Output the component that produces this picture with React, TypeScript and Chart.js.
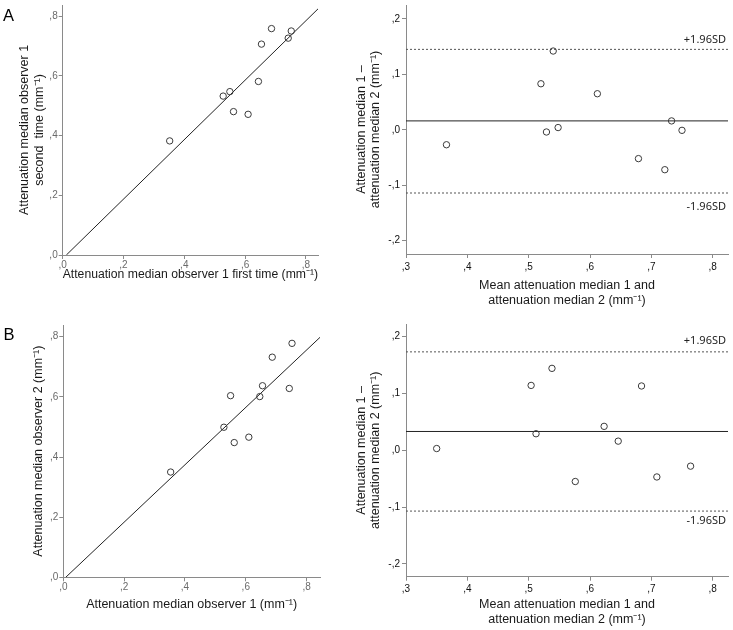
import { useEffect, useRef } from "react";
import { Chart, registerables } from "chart.js";

Chart.register(...registerables);

// ---------- Panel A: observer 1, first vs second time ----------
const aFirst = [0.352, 0.528, 0.55, 0.562, 0.61, 0.644, 0.654, 0.687, 0.742, 0.752];
const aSecond = [0.382, 0.532, 0.547, 0.48, 0.471, 0.581, 0.706, 0.758, 0.726, 0.75];
const aFitX = [0.012, 0.84];
const aFitY = [0, 0.824];

// ---------- Panel A: Bland-Altman ----------
const aMean = [0.366, 0.52, 0.529, 0.54, 0.548, 0.612, 0.679, 0.722, 0.733, 0.75];
const aDiff = [-0.027, 0.083, -0.004, 0.142, 0.004, 0.065, -0.052, -0.072, 0.016, -0.001];
const aBias = 0.016;
const aUpper = 0.145;
const aLower = -0.114;

// ---------- Panel B: observer 1 vs observer 2 ----------
const bObs1 = [0.353, 0.528, 0.55, 0.562, 0.61, 0.646, 0.655, 0.687, 0.743, 0.752];
const bObs2 = [0.35, 0.499, 0.604, 0.448, 0.466, 0.601, 0.637, 0.732, 0.628, 0.778];
const bFitX = [0.008, 0.844];
const bFitY = [0, 0.798];

// ---------- Panel B: Bland-Altman ----------
const bMean = [0.35, 0.504, 0.512, 0.538, 0.576, 0.623, 0.646, 0.684, 0.709, 0.764];
const bDiff = [0.003, 0.114, 0.029, 0.144, -0.055, 0.042, 0.016, 0.113, -0.047, -0.028];
const bBias = 0.033;
const bUpper = 0.173;
const bLower = -0.107;

// ---------- ticks ----------
const scatterTicks = [0, 0.2, 0.4, 0.6, 0.8];
const scatterTickLabels = [",0", ",2", ",4", ",6", ",8"];
const meanTicks = [0.3, 0.4, 0.5, 0.6, 0.7, 0.8];
const meanTickLabels = [",3", ",4", ",5", ",6", ",7", ",8"];
const diffTicks = [-0.2, -0.1, 0, 0.1, 0.2];
const diffTickLabels = ["-,2", "-,1", ",0", ",1", ",2"];

const sdUpperText = "+1.96SD";
const sdLowerText = "-1.96SD";

const FONT = "'Liberation Sans', Arial, sans-serif";

type AxisSpec = {
  horizontal: boolean;
  min: number;
  max: number;
  ticks: number[];
  labels: string[];
  size: number;
  title: string | string[];
  titleLH: number;
  titlePad: number;
  tickColor: string;
  tickPad: number;
};

function axis(s: AxisSpec) {
  return {
    type: "linear",
    min: s.min,
    max: s.max,
    afterBuildTicks: (sc: any) => {
      sc.ticks = s.ticks.map((v) => ({ value: v }));
    },
    afterFit: (sc: any) => {
      if (s.horizontal) {
        sc.height = s.size;
        sc.paddingLeft = 0;
        sc.paddingRight = 0;
      } else {
        sc.width = s.size;
        sc.paddingTop = 0;
        sc.paddingBottom = 0;
      }
    },
    ticks: {
      autoSkip: false,
      maxRotation: 0,
      padding: s.tickPad,
      color: s.tickColor,
      font: { family: FONT, size: 10 },
      callback: (_v: any, i: number) => s.labels[i],
    },
    grid: { drawOnChartArea: false, drawTicks: true, tickLength: 4, color: "#8a8a8a", lineWidth: 1 },
    border: { display: true, color: "#8a8a8a", width: 1 },
    title: {
      display: true,
      text: s.title,
      color: "#1a1a1a",
      font: { family: FONT, size: 12.5, lineHeight: s.titleLH / 12.5 },
      padding: s.horizontal ? { top: 0, bottom: s.titlePad } : { top: s.titlePad, bottom: 0 },
    },
  };
}

function pts(xs: number[], ys: number[]) {
  return xs.map((x, i) => ({ x, y: ys[i] }));
}

const pointDataset = (data: any[]) => ({
  data,
  showLine: false,
  pointStyle: "circle",
  pointRadius: 3.2,
  pointBorderWidth: 1,
  pointBorderColor: "#3a3a3a",
  pointBackgroundColor: "rgba(255,255,255,0)",
});

const lineDataset = (data: any[], color: string, dash: number[]) => ({
  data,
  showLine: true,
  pointRadius: 0,
  borderColor: color,
  borderWidth: 1,
  borderDash: dash,
});

const letterPlugin = (letter: string, x: number, y: number) => ({
  id: "panelLetter",
  afterDraw(chart: any) {
    const ctx = chart.ctx;
    ctx.save();
    ctx.font = `16.5px ${FONT}`;
    ctx.fillStyle = "#000";
    ctx.textAlign = "left";
    ctx.textBaseline = "alphabetic";
    ctx.fillText(letter, x, y);
    ctx.restore();
  },
});

const sdPlugin = (upper: number, lower: number, upOff: number, lowOff: number) => ({
  id: "sdLabels",
  afterDatasetsDraw(chart: any) {
    const { ctx, chartArea, scales } = chart;
    ctx.save();
    ctx.font = "11px 'Noto Sans', sans-serif";
    ctx.fillStyle = "#222";
    ctx.textAlign = "right";
    ctx.textBaseline = "middle";
    ctx.fillText(sdUpperText, chartArea.right - 2, scales.y.getPixelForValue(upper) + upOff);
    ctx.fillText(sdLowerText, chartArea.right - 2, scales.y.getPixelForValue(lower) + lowOff);
    ctx.restore();
  },
});

function baseOptions(pad: any, x: any, y: any) {
  return {
    responsive: false,
    animation: false,
    devicePixelRatio: 1,
    layout: { padding: pad },
    plugins: { legend: { display: false }, tooltip: { enabled: false } },
    scales: { x, y },
  };
}

function scatterConfig(which: "A" | "B") {
  const isA = which === "A";
  const xs = isA ? aFirst : bObs1;
  const ys = isA ? aSecond : bObs2;
  const fx = isA ? aFitX : bFitX;
  const fy = isA ? aFitY : bFitY;
  const x = axis({
    horizontal: true,
    min: 0,
    max: isA ? 0.84 : 0.844,
    ticks: scatterTicks,
    labels: scatterTickLabels,
    size: isA ? 50 : 52.7,
    title: isA ? "Attenuation median observer 1 first time (mm⁻¹)" : "Attenuation median observer 1 (mm⁻¹)",
    titleLH: 15,
    titlePad: isA ? 22.5 : 17.5,
    tickColor: "#6a6a6a",
    tickPad: 0,
  });
  const y = axis({
    horizontal: false,
    min: 0,
    max: isA ? 0.837 : 0.839,
    ticks: scatterTicks,
    labels: scatterTickLabels,
    size: isA ? 62.7 : 63.3,
    title: isA ? ["Attenuation median observer 1", "second  time (mm⁻¹)"] : "Attenuation median observer 2 (mm⁻¹)",
    titleLH: 15,
    titlePad: isA ? 17.5 : 30.8,
    tickColor: "#6a6a6a",
    tickPad: 1,
  });
  return {
    type: "scatter",
    data: {
      datasets: [pointDataset(pts(xs, ys)), lineDataset(pts(fx, fy), "#222", [])],
    },
    options: baseOptions(isA ? { left: 0, top: 2, right: 42, bottom: 0 } : { left: 0, top: 15, right: 40, bottom: 0 }, x, y),
    plugins: [isA ? letterPlugin("A", 3, 20.7) : letterPlugin("B", 3.5, 30)],
  };
}

function baConfig(which: "A" | "B") {
  const isA = which === "A";
  const xs = isA ? aMean : bMean;
  const ys = isA ? aDiff : bDiff;
  const bias = isA ? aBias : bBias;
  const up = isA ? aUpper : bUpper;
  const lo = isA ? aLower : bLower;
  const xMin = 0.3;
  const xMax = 0.825;
  const x = axis({
    horizontal: true,
    min: xMin,
    max: xMax,
    ticks: meanTicks,
    labels: meanTickLabels,
    size: isA ? 56 : 53.3,
    title: ["Mean attenuation median 1 and", "attenuation median 2 (mm⁻¹)"],
    titleLH: isA ? 14.5 : 15,
    titlePad: isA ? 2.25 : 2.5,
    tickColor: "#111",
    tickPad: 3,
  });
  const y = axis({
    horizontal: false,
    min: isA ? -0.224 : -0.2224,
    max: isA ? 0.225 : 0.222,
    ticks: diffTicks,
    labels: diffTickLabels,
    size: 66,
    title: ["Attenuation median 1 –", "attenuation median 2 (mm⁻¹)"],
    titleLH: 14,
    titlePad: isA ? 15 : 14.7,
    tickColor: "#111",
    tickPad: 2,
  });
  return {
    type: "scatter",
    data: {
      datasets: [
        pointDataset(pts(xs, ys)),
        lineDataset(pts([xMin, xMax], [bias, bias]), "#222", []),
        lineDataset(pts([xMin, xMax], [up, up]), "#555", [2, 2]),
        lineDataset(pts([xMin, xMax], [lo, lo]), "#555", [2, 2]),
      ],
    },
    options: baseOptions(isA ? { left: 0, top: 0, right: 2.3, bottom: 0 } : { left: 0, top: 14, right: 2.3, bottom: 0 }, x, y),
    plugins: [isA ? sdPlugin(up, lo, -9.5, 13.5) : sdPlugin(up, lo, -11.5, 9.5)],
  };
}

function Panel(props: { left: number; top: number; width: number; height: number; make: () => any }) {
  const ref = useRef<HTMLCanvasElement>(null);
  useEffect(() => {
    const chart = new Chart(ref.current as HTMLCanvasElement, props.make());
    return () => chart.destroy();
  }, []);
  return (
    <canvas
      ref={ref}
      width={props.width}
      height={props.height}
      style={{ position: "absolute", left: props.left, top: props.top, width: props.width, height: props.height }}
    />
  );
}

export default function App() {
  return (
    <div style={{ position: "absolute", left: 0, top: 0, width: 733, height: 630, background: "#fff", overflow: "hidden" }}>
      <Panel left={0} top={0} width={360} height={305} make={() => scatterConfig("A")} />
      <Panel left={340} top={0} width={393} height={310} make={() => baConfig("A")} />
      <Panel left={0} top={310} width={360} height={320} make={() => scatterConfig("B")} />
      <Panel left={340} top={310} width={393} height={320} make={() => baConfig("B")} />
    </div>
  );
}
